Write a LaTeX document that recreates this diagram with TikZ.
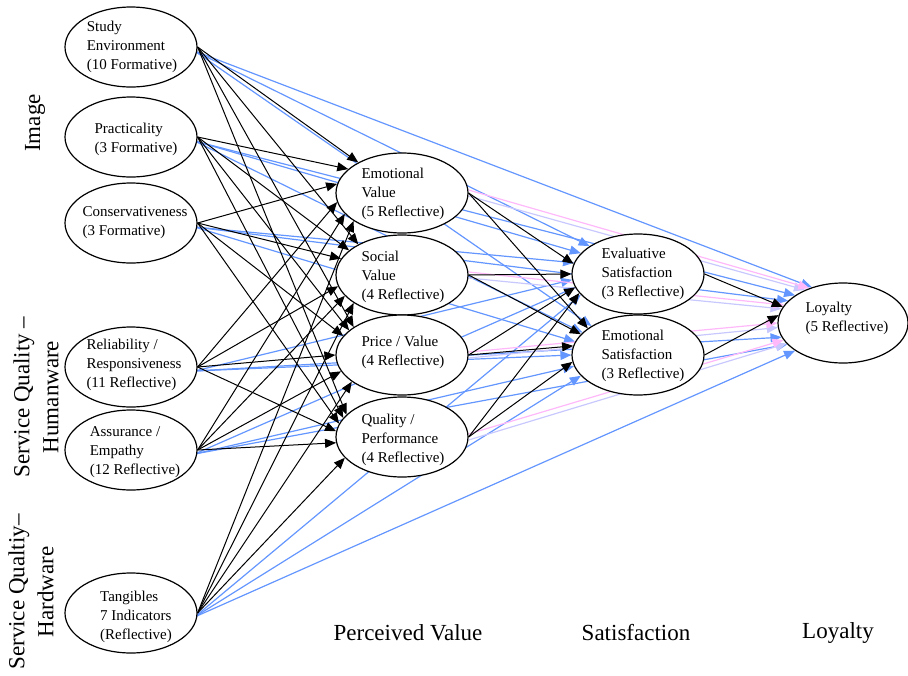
\documentclass[tikz,border=0pt]{standalone}
\usepackage{fontspec}
\setmainfont{Liberation Serif}
\usetikzlibrary{arrows.meta,backgrounds,shapes.geometric}
\definecolor{lblue}{RGB}{100,150,255}
\definecolor{lpink}{RGB}{255,185,250}
\definecolor{llav}{RGB}{200,200,255}
\begin{document}
\begin{tikzpicture}[x=1pt,y=-1pt,
  ell/.style={ellipse, draw, fill=white, line width=1.2pt, minimum width=132pt, minimum height=80pt, inner sep=0pt},
  txt/.style={align=left, inner sep=0pt, font=\fontsize{15}{19}\selectfont},
  lab/.style={align=center, inner sep=0pt, font=\fontsize{23}{29}\selectfont},
  tip/.style={-{Triangle[length=11pt,width=9pt]}},
  blk/.style={tip, line width=1pt, black},
  blu/.style={tip, line width=1.2pt, lblue},
  pnk/.style={tip, line width=1.2pt, lpink},
  lav/.style={tip, line width=1.2pt, llav}]
\useasboundingbox (0,0) rectangle (908,675);
% exogenous
\node[ell] (se) at (131,47) {};
\node[txt] (se-t) at (132,47) {Study\\Environment\\(10 Formative)};
\node[ell] (pr) at (131,137) {};
\node[txt] (pr-t) at (136,139) {Practicality\\(3 Formative)};
\node[ell] (co) at (131,223) {};
\node[txt] (co-t) at (135,223) {Conservativeness\\(3 Formative)};
\node[ell] (rr) at (131,367) {};
\node[txt] (rr-t) at (134,365) {Reliability /\\Responsiveness\\(11 Reflective)};
\node[ell] (ae) at (131,450) {};
\node[txt] (ae-t) at (135,452) {Assurance /\\Empathy\\(12 Reflective)};
\node[ell] (ta) at (131,613) {};
\node[txt] (ta-t) at (136,617) {Tangibles\\7 Indicators\\(Reflective)};
% perceived value
\node[ell] (ev) at (402,193) {};
\node[txt] (ev-t) at (403,194) {Emotional\\Value\\(5 Reflective)};
\node[ell] (sv) at (402,275) {};
\node[txt] (sv-t) at (403,277) {Social\\Value\\(4 Reflective)};
\node[ell] (pv) at (402,355) {};
\node[txt] (pv-t) at (403,352) {Price / Value\\(4 Reflective)};
\node[ell] (qp) at (402,437) {};
\node[txt] (qp-t) at (403,440) {Quality /\\Performance\\(4 Reflective)};
% satisfaction
\node[ell] (es) at (638,274) {};
\node[txt] (es-t) at (643,274) {Evaluative\\Satisfaction\\(3 Reflective)};
\node[ell] (ms) at (638,355) {};
\node[txt] (ms-t) at (643,356) {Emotional\\Satisfaction\\(3 Reflective)};
% loyalty
\node[ell, minimum width=130pt] (lo) at (843,323) {};
\node[txt] (lo-t) at (847,318) {Loyalty\\(5 Reflective)};
% group labels
\node[lab, rotate=90] (img) at (35,123) {Image};
\node[lab, rotate=90] (hum) at (36,397) {Service Quality –\\Humanware};
\node[lab, rotate=90] (hard) at (31,592) {Service Qualtiy–\\Hardware};
\node[lab] (pvl) at (408,633) {Perceived Value};
\node[lab] (satl) at (636,633) {Satisfaction};
\node[lab] (loyl) at (838,633) {Loyalty};

\begin{pgfonlayer}{background}
% blue: exogenous -> satisfaction / loyalty
\foreach \s/\a/\b/\c in {se/150/148/131, pr/160/158/150, co/170/168/158, rr/185/180/193, ae/192/190/201, ta/200/200/210}{
  \draw[blu] ([xshift=-3pt,yshift=-4pt]\s.east) -- (es.\a);
  \draw[blu] ([xshift=-3pt,yshift=-4pt]\s.east) -- (ms.\b);
  \draw[blu] ([xshift=-3pt,yshift=-4pt]\s.east) -- (lo.\c);
}
% pink / lavender: perceived value -> loyalty
\foreach \s/\a/\b in {ev/134/139, sv/163/167, pv/180/184, qp/196/200}{
  \draw[lav] ([yshift=-3pt]\s.east) -- (lo.\b);
  \draw[pnk] ([yshift=3pt]\s.east) -- (lo.\a);
}
% black: exogenous -> perceived value
\foreach \s/\t/\a in {se/ev/145, pr/ev/156, co/ev/172, rr/ev/188, ae/ev/200, ta/ev/210,
                      se/sv/145, pr/sv/155, co/sv/165, rr/sv/190, ae/sv/200, ta/sv/210,
                      se/pv/150, pr/pv/155, co/pv/162, rr/pv/180, ae/pv/195, ta/pv/208,
                      se/qp/158, pr/qp/162, co/qp/168, rr/qp/175, ae/qp/185, ta/qp/200}{
  \draw[blk] (\s.east) -- (\t.\a);
}
% black: perceived value -> satisfaction
\foreach \s/\a/\b in {ev/171/152, sv/180/160, pv/192/172, qp/198/186}{
  \draw[blk] (\s.east) -- (es.\a);
  \draw[blk] (\s.east) -- (ms.\b);
}
% black: satisfaction -> loyalty
\draw[blk] (es.east) -- (lo.165);
\draw[blk] (ms.east) -- (lo.173);
\end{pgfonlayer}
\end{tikzpicture}
\end{document}
